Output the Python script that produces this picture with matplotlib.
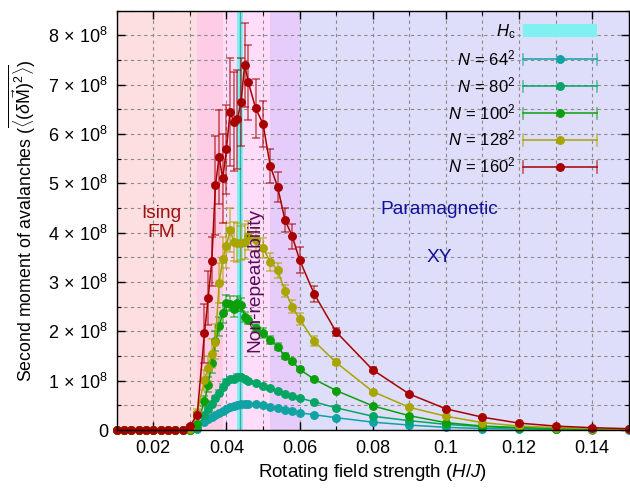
import numpy as np
import matplotlib
matplotlib.use("Agg")
import matplotlib.pyplot as plt
from matplotlib.lines import Line2D
from matplotlib.patches import Patch
from matplotlib.legend_handler import HandlerBase
from matplotlib.colors import to_rgba
from matplotlib.ticker import MultipleLocator, FuncFormatter

plt.rcParams['font.family'] = ['Liberation Sans', 'DejaVu Sans']
plt.rcParams['mathtext.fontset'] = 'custom'
plt.rcParams['mathtext.rm'] = 'Liberation Sans'
plt.rcParams['mathtext.it'] = 'Liberation Sans:italic'
plt.rcParams['mathtext.bf'] = 'Liberation Sans:bold'

# ---------------- data (values in units of 1e8) ----------------
H = [0.010, 0.012, 0.014, 0.016, 0.018, 0.020, 0.022, 0.024, 0.026, 0.028,
     0.030, 0.032, 0.034, 0.035, 0.036, 0.037, 0.038, 0.039, 0.040, 0.041,
     0.042, 0.043, 0.044, 0.045, 0.046, 0.048, 0.050, 0.052, 0.054, 0.056,
     0.058, 0.060, 0.064, 0.07, 0.08, 0.09, 0.10, 0.11, 0.12, 0.13, 0.14, 0.15]

m64 = [0]*10 + [0.003, 0.03, 0.17, 0.22, 0.27, 0.31, 0.35, 0.39, 0.43, 0.46,
                0.49, 0.51, 0.52, 0.53, 0.53, 0.53, 0.50, 0.47, 0.44, 0.41,
                0.39, 0.35, 0.31, 0.25, 0.16, 0.10, 0.055, 0.03, 0.02, 0.015, 0.01, 0.01]
e64 = [0]*10 + [0.0, 0.005, 0.01, 0.01, 0.015, 0.015, 0.015, 0.02, 0.02, 0.02,
                0.02, 0.02, 0.02, 0.02, 0.02, 0.02, 0.02, 0.015, 0.015, 0.015,
                0.01, 0.01, 0.01, 0.01, 0.005, 0.005, 0.005, 0.0, 0.0, 0.0, 0.0, 0.0]

m80 = [0]*10 + [0.005, 0.05, 0.30, 0.42, 0.53, 0.64, 0.75, 0.88, 0.98, 1.03,
                1.04, 1.08, 1.07, 1.03, 0.99, 0.96, 0.89, 0.85, 0.79, 0.74,
                0.69, 0.65, 0.57, 0.45, 0.28, 0.19, 0.115, 0.07, 0.04, 0.025, 0.02, 0.015]
e80 = [0]*10 + [0.0, 0.01, 0.03, 0.04, 0.05, 0.05, 0.06, 0.06, 0.06, 0.05,
                0.05, 0.05, 0.05, 0.04, 0.04, 0.03, 0.03, 0.03, 0.03, 0.02,
                0.02, 0.02, 0.02, 0.015, 0.01, 0.01, 0.005, 0.0, 0.0, 0.0, 0.0, 0.0]

m100 = [0]*10 + [0.01, 0.12, 0.58, 0.92, 1.35, 1.80, 2.10, 2.37, 2.58, 2.56,
                 2.45, 2.57, 2.54, 2.30, 2.23, 2.06, 1.97, 1.83, 1.69, 1.50,
                 1.40, 1.23, 1.03, 0.80, 0.49, 0.29, 0.15, 0.08, 0.05, 0.03, 0.02, 0.02]
e100 = [0]*10 + [0.0, 0.03, 0.10, 0.15, 0.20, 0.20, 0.20, 0.20, 0.15, 0.15,
                 0.15, 0.15, 0.13, 0.10, 0.08, 0.08, 0.10, 0.08, 0.07, 0.06,
                 0.05, 0.04, 0.03, 0.03, 0.02, 0.015, 0.01, 0.005, 0.0, 0.0, 0.0, 0.0]

m128 = [0]*10 + [0.03, 0.35, 1.02, 1.25, 1.55, 1.79, 2.98, 3.46, 3.74, 4.05,
                 3.82, 3.80, 3.79, 3.82, 3.94, 3.85, 3.69, 3.41, 3.24, 2.82,
                 2.50, 2.25, 1.80, 1.37, 0.78, 0.46, 0.28, 0.15, 0.08, 0.05, 0.03, 0.02]
e128 = [0]*10 + [0.01, 0.08, 0.20, 0.25, 0.30, 0.35, 0.40, 0.45, 0.45, 0.45,
                 0.40, 0.40, 0.35, 0.35, 0.30, 0.25, 0.20, 0.18, 0.15, 0.13,
                 0.13, 0.12, 0.10, 0.06, 0.04, 0.02, 0.01, 0.01, 0.0, 0.0, 0.0, 0.0]

m160 = [0]*10 + [0.08, 0.30, 1.96, 2.67, 3.42, 4.96, 5.53, 5.10, 5.69, 6.45,
                 6.25, 6.30, 6.65, 7.40, 7.05, 6.52, 6.21, 5.35, 4.93, 4.26,
                 3.93, 3.45, 2.76, 1.99, 1.22, 0.73, 0.43, 0.26, 0.14, 0.08, 0.047, 0.027]
e160 = [0]*10 + [0.03, 0.06, 0.60, 0.55, 0.50, 1.00, 0.95, 0.90, 0.90, 1.10,
                 1.00, 1.00, 0.90, 0.85, 0.76, 0.60, 0.47, 0.35, 0.30, 0.25,
                 0.25, 0.27, 0.17, 0.08, 0.05, 0.03, 0.02, 0.01, 0.01, 0.005, 0.005, 0.003]

series_labels = [r'$N\,=\,64^2$', r'$N\,=\,80^2$', r'$N\,=\,100^2$', r'$N\,=\,128^2$', r'$N\,=\,160^2$']
series_vals = [m64, m80, m100, m128, m160]
series_errs = [e64, e80, e100, e128, e160]
series_colors = ['#0FA3A3', '#05A565', '#0BA00B', '#A8A400', '#A80000']

H_c = 0.0437
regions = [(0.010, 0.032, '#FEDFE1'), (0.032, 0.039, '#FFCCE5'),
           (0.039, 0.052, '#FFDDFA'), (0.052, 0.060, '#E6CCFA'),
           (0.060, 0.150, '#DEDEFB')]
ytick_vals = [0, 1, 2, 3, 4, 5, 6, 7, 8]

# ---------------- figure ----------------
fig = plt.figure(figsize=(6.3, 4.9), dpi=100)
ax = fig.add_axes([0.1852, 0.1224, 0.998 - 0.1852, 0.978 - 0.1224])

for a, b, c in regions:
    ax.axvspan(a, b, color=c, zorder=0, lw=0)

ax.set_axisbelow(True)
ax.grid(True, which='both', color='#8a8a8a', linestyle=(0, (3, 3)), linewidth=0.8, zorder=0.5)

ax.axvspan(H_c - 0.0009, H_c + 0.0009, color='#80F0F0', zorder=0.7, lw=0)
ax.axvline(H_c, color='#3FA7A7', lw=1.0, zorder=0.8)

Hx = np.array(H)
for vals, errs, col in zip(series_vals, series_errs, series_colors):
    v = np.array(vals) * 1e8
    e = np.array(errs) * 1e8
    ax.errorbar(Hx, v, yerr=e, color=col, ecolor=to_rgba(col, 0.6), elinewidth=1.2,
                capsize=3, capthick=1.2, lw=1.1, marker='o', ms=5.4, mec=col, mfc=col,
                zorder=3, clip_on=False)

ax.set_xlim(0.010, 0.150)
ax.set_ylim(0, 8.5e8)
ax.xaxis.set_major_locator(MultipleLocator(0.02))
ax.xaxis.set_minor_locator(MultipleLocator(0.01))
ax.yaxis.set_major_locator(MultipleLocator(1e8))
ax.yaxis.set_minor_locator(MultipleLocator(0.5e8))

def yfmt(v, pos):
    k = int(round(v / 1e8))
    if k == 0:
        return '0'
    return r'$%d\,\times\,10^{8}$' % k
ax.yaxis.set_major_formatter(FuncFormatter(yfmt))
ax.xaxis.set_major_formatter(FuncFormatter(lambda v, p: ('%g' % round(v, 3))))
ax.set_yticks([t * 1e8 for t in ytick_vals])

ax.tick_params(which='both', direction='in', top=True, right=True, labelsize=13, colors='black')
ax.tick_params(axis='x', which='major', pad=7)
ax.tick_params(axis='y', which='major', pad=6)
ax.tick_params(which='major', length=6, width=1)
ax.tick_params(which='minor', length=3, width=0.8)
for s in ax.spines.values():
    s.set_linewidth(1.0)
    s.set_zorder(5)

ax.set_xlabel(r'Rotating field strength ($H/J$)', fontsize=13.5, labelpad=4)
ax.set_ylabel(r'Second moment of avalanches $(\overline{\langle(\delta\vec{\mathrm{M}})^2\rangle})$',
              fontsize=12.8, labelpad=7)

# region annotations
ax.text(0.0222, 4.2e8, 'Ising\nFM', color='#A01010', fontsize=13.8, ha='center', va='center',
        linespacing=1.2, zorder=4)
ax.text(0.0478, 3.05e8, 'Non-repeatability', color='#5A0A5A', fontsize=13.8, rotation=90,
        ha='center', va='center', zorder=4)
ax.text(0.0983, 4.48e8, 'Paramagnetic', color='#10109A', fontsize=13.8, ha='center', va='center', zorder=4)
ax.text(0.0983, 3.5e8, 'XY', color='#10109A', fontsize=13.8, ha='center', va='center', zorder=4)

# legend
class HandlerHErr(HandlerBase):
    def create_artists(self, legend, orig_handle, xdescent, ydescent, width, height, fontsize, trans):
        c = orig_handle.get_color()
        y = height / 2 - ydescent
        x0 = -xdescent
        x1 = width - xdescent
        cap = height * 0.42
        ec = to_rgba(c, 0.6)
        arts = [Line2D([x0, x1], [y, y], color=c, lw=1.1),
                Line2D([x0, x0], [y - cap, y + cap], color=ec, lw=1.2),
                Line2D([x1, x1], [y - cap, y + cap], color=ec, lw=1.2),
                Line2D([(x0 + x1) / 2], [y], marker='o', ms=5.4, color=c, ls='none')]
        for a in arts:
            a.set_transform(trans)
        return arts

handles = [Patch(facecolor='#80F0F0', edgecolor='none')]
labels = [r'$H_\mathrm{c}$']
for lab, col in zip(series_labels, series_colors):
    handles.append(Line2D([], [], color=col))
    labels.append(lab)

leg = ax.legend(handles, labels, loc='upper right', bbox_to_anchor=(0.9375, 0.972),
                frameon=False, markerfirst=False, handlelength=4.4, handleheight=0.85,
                handletextpad=0.45, labelspacing=0.42, fontsize=12, borderpad=0, borderaxespad=0,
                handler_map={Line2D: HandlerHErr()})
leg.set_zorder(6)

fig.savefig('out.png', dpi=100)
